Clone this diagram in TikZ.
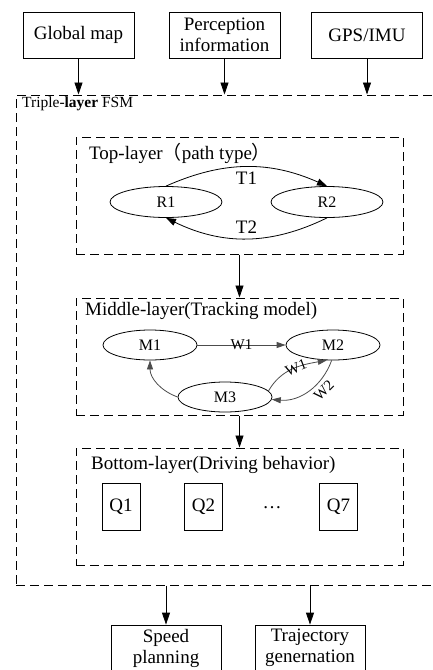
\documentclass[tikz,border=0pt]{standalone}
\usepackage{fontspec}
\setmainfont{Liberation Serif}
\newfontfamily\cjk{Noto Sans CJK SC}
\usetikzlibrary{arrows.meta}
\usetikzlibrary{shapes.geometric}
\usetikzlibrary{calc}

\tikzset{
	srcbox/.style={draw, line width=0.8pt, minimum width=111pt, minimum height=46pt, align=center, inner sep=1pt},
	layerbox/.style={draw, line width=1pt, dash pattern=on 9pt off 5pt, minimum width=327pt, minimum height=117pt},
	fsmstate/.style={draw, ellipse, line width=0.8pt, minimum width=112pt, minimum height=31pt, inner sep=0pt, font=\fontsize{16}{18}\selectfont},
	qbox/.style={draw, line width=0.8pt, minimum width=38pt, minimum height=47pt, inner sep=0pt},
	flow/.style={-{Triangle[length=12pt,width=8pt]}, line width=0.8pt},
	trans/.style={-{Triangle[length=10pt,width=7pt]}, line width=0.8pt},
	graytrans/.style={-{Triangle[length=9pt,width=6pt]}, line width=0.8pt, draw=black!70, fill=none},
	edgelabel/.style={font=\fontsize{15}{17}\selectfont, inner sep=1pt}
}

\begin{document}
\begin{tikzpicture}[x=1pt,y=1pt,font=\fontsize{19}{21}\selectfont]
	\useasboundingbox (0,0) rectangle (432,-670);
	
	% Inputs
	\node[srcbox] (gmap) at (78.5,-35) {Global map};
	\node[srcbox] (percep) at (224.5,-35) {Perception\\information};
	\node[srcbox] (gps) at (367,-35) {GPS/IMU};
	
	% Outer FSM frame
	\node[layerbox, minimum width=418pt, minimum height=490pt] (fsm) at (225,-340) {};
	\node[anchor=west, inner sep=0pt, font=\fontsize{15.5}{17}\selectfont] (fsmlabel) at (22,-104) {Triple-\textbf{layer} FSM};
	
	\draw[flow] (gmap.south) -- (gmap.south |- fsm.north);
	\draw[flow] (percep.south) -- (percep.south |- fsm.north);
	\draw[flow] (gps.south) -- (gps.south |- fsm.north);
	
	% Top layer
	\node[layerbox] (top) at (239.5,-195.5) {};
	\node[anchor=west, inner sep=0pt] (toplabel) at (89,-153) {Top-layer{\cjk（}path type{\cjk）}};
	\node[fsmstate] (r1) at (166,-202) {R1};
	\node[fsmstate] (r2) at (327,-202) {R2};
	\draw[trans] (r1.north) to[bend left=24] node[below=1pt] (t1) {T1} (r2.north);
	\draw[trans] (r2.south) to[bend left=26] node[above=1pt] (t2) {T2} (r1.south);
	
	% Middle layer
	\node[layerbox] (mid) at (239.5,-356.5) {};
	\node[anchor=west, inner sep=0pt] (midlabel) at (85,-311) {Middle-layer(Tracking model)};
	\node[fsmstate, minimum width=94pt, minimum height=30pt] (m1) at (150,-345) {M1};
	\node[fsmstate, minimum width=94pt, minimum height=30pt] (m2) at (333,-345) {M2};
	\node[fsmstate, minimum width=94pt, minimum height=30pt] (m3) at (225,-397) {M3};
	\draw[graytrans] (m1.east) -- node[edgelabel] (w1a) {W1} (m2.west);
	\draw[graytrans] (m3.west) to[out=160,in=-90] (m1.south);
	\draw[graytrans] (m3.8) to[out=60,in=190] node[edgelabel, sloped, pos=0.55] (w1b) {W1} (m2.-112);
	\draw[graytrans] (m2.-95) to[out=-110,in=-5] node[edgelabel, sloped, below=3pt, pos=0.35] (w2) {W2} (m3.-3);
	
	\draw[flow] (top.south) -- (mid.north);
	
	% Bottom layer
	\node[layerbox] (bot) at (239.5,-506.5) {};
	\node[anchor=west, inner sep=0pt] (botlabel) at (91,-465) {Bottom-layer(Driving behavior)};
	\node[qbox] (q1) at (121,-506.5) {Q1};
	\node[qbox] (q2) at (203.5,-506.5) {Q2};
	\node (qdots) at (272,-508) {\dots};
	\node[qbox] (q7) at (338.5,-506.5) {Q7};
	
	\draw[flow] (mid.south) -- (bot.north);
	
	% Outputs
	\node[srcbox, minimum width=110pt] (speed) at (166,-648) {Speed\\planning};
	\node[srcbox, minimum width=110pt] (traj) at (310,-648) {Trajectory\\genernation};
	\draw[flow] (speed.north |- fsm.south) -- (speed.north);
	\draw[flow] (traj.north |- fsm.south) -- (traj.north);
	
\end{tikzpicture}
\end{document}
